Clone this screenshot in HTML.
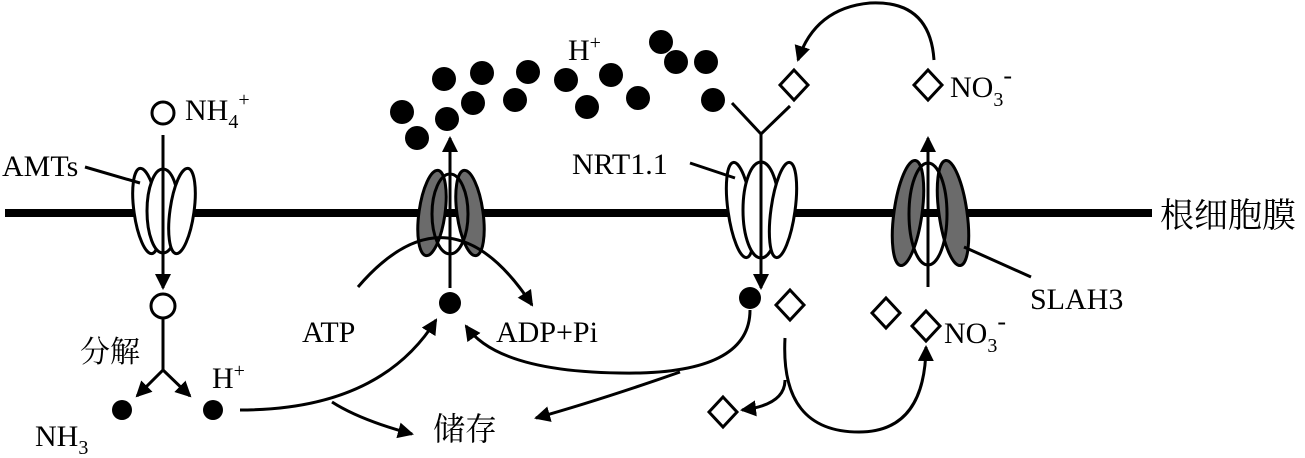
<html><body style="margin:0;background:#fff">
<svg width="1305" height="458" viewBox="0 0 1305 458" xmlns="http://www.w3.org/2000/svg" font-family="Liberation Serif, Noto Serif CJK SC, serif" font-size="30">
<defs>
<marker id="h" markerWidth="20" markerHeight="20" refX="14" refY="8" orient="auto" markerUnits="userSpaceOnUse"><path d="M0,0 L16,8 L0,16 Z" fill="#000"/></marker></defs>
<g stroke="#000" fill="none" stroke-width="3">
<line x1="5" y1="213" x2="1152" y2="213" stroke-width="8"/>
<!-- AMTs -->
<g fill="#fff"><ellipse cx="146" cy="211" rx="12" ry="43" transform="rotate(-8 146 211)"/><ellipse cx="163" cy="211" rx="16" ry="42"/><ellipse cx="182" cy="211" rx="12" ry="43" transform="rotate(8 182 211)"/></g>
<line x1="163" y1="135" x2="163" y2="288" marker-end="url(#h)"/>
<circle cx="163" cy="113" r="11" fill="#fff"/><circle cx="163" cy="306" r="12" fill="#fff"/>
<path d="M163 318 L163 370 L137 396" marker-end="url(#h)"/>
<path d="M163 370 L190 396" marker-end="url(#h)"/>
<line x1="85" y1="167" x2="140" y2="183"/>
<!-- pump -->
<ellipse cx="432" cy="213" rx="13" ry="43" transform="rotate(8 432 213)" fill="#6b6b6b"/>
<ellipse cx="470" cy="213" rx="13" ry="43" transform="rotate(-8 470 213)" fill="#6b6b6b"/>
<ellipse cx="450" cy="214" rx="18" ry="40"/>
<line x1="450" y1="288" x2="450" y2="138" marker-end="url(#h)"/>
<path d="M358 287 Q450 180 532 305" marker-end="url(#h)"/>
<path d="M240 410 Q380 410 436 320" marker-end="url(#h)"/>
<path d="M332 402 Q360 420 412 434" marker-end="url(#h)"/>
<path d="M750 310 Q750 370 640 373 Q500 375 466 326" marker-end="url(#h)"/>
<path d="M680 372 Q600 400 536 418" marker-end="url(#h)"/>
<!-- NRT1.1 -->
<g fill="#fff"><ellipse cx="740" cy="210" rx="12" ry="48" transform="rotate(-8 740 210)"/><ellipse cx="761" cy="210" rx="18" ry="48"/><ellipse cx="783" cy="210" rx="12" ry="48" transform="rotate(8 783 210)"/></g>
<line x1="761" y1="133" x2="761" y2="288" marker-end="url(#h)"/>
<path d="M732 103 L761 134 L790 106"/>
<line x1="690" y1="163" x2="735" y2="178"/>
<!-- SLAH3 -->
<ellipse cx="908" cy="213" rx="14" ry="53" transform="rotate(8 908 213)" fill="#6b6b6b"/>
<ellipse cx="953" cy="213" rx="14" ry="53" transform="rotate(-8 953 213)" fill="#6b6b6b"/>
<ellipse cx="928" cy="214" rx="19" ry="51"/>
<line x1="928" y1="287" x2="928" y2="138" marker-end="url(#h)"/>
<line x1="964" y1="247" x2="1031" y2="277"/>
<path d="M934 60 Q930 0 870 3 Q815 8 798 60" marker-end="url(#h)"/>
<path d="M785 338 Q780 432 859 432 Q925 432 926 347" marker-end="url(#h)"/>
<path d="M785 380 Q785 405 742 410" marker-end="url(#h)"/>
<g fill="#fff">
<path d="M794 70 L808 85 L794 100 L780 85 Z"/><path d="M928 70 L942 85 L928 100 L914 85 Z"/>
<path d="M790 290 L804 305 L790 320 L776 305 Z"/><path d="M886 298 L900 313 L886 328 L872 313 Z"/>
<path d="M926 311 L940 326 L926 341 L912 326 Z"/><path d="M723 397 L737 412 L723 427 L709 412 Z"/>
</g>
</g>
<g fill="#000">
<circle cx="122" cy="410" r="10"/><circle cx="213" cy="410" r="10"/><circle cx="450" cy="303" r="11"/><circle cx="750" cy="298" r="11"/>
<circle cx="402" cy="112" r="12"/><circle cx="417" cy="138" r="12"/><circle cx="444" cy="79" r="12"/><circle cx="447" cy="119" r="12"/><circle cx="473" cy="103" r="12"/><circle cx="482" cy="73" r="12"/><circle cx="515" cy="100" r="12"/><circle cx="528" cy="72" r="12"/><circle cx="566" cy="80" r="12"/><circle cx="587" cy="107" r="12"/><circle cx="611" cy="75" r="12"/><circle cx="638" cy="98" r="12"/><circle cx="661" cy="42" r="12"/><circle cx="676" cy="62" r="12"/><circle cx="706" cy="62" r="12"/><circle cx="713" cy="100" r="12"/>
<text x="185" y="120">NH<tspan font-size="20" dy="8">4</tspan><tspan font-size="20" dy="-22">+</tspan></text>
<text x="2" y="176">AMTs</text>
<text x="80" y="362">分解</text>
<text x="212" y="388">H<tspan font-size="20" dy="-11">+</tspan></text>
<text x="35" y="446">NH<tspan font-size="20" dy="8">3</tspan></text>
<text x="302" y="342">ATP</text>
<text x="496" y="342">ADP+Pi</text>
<text x="433" y="440" font-size="32">储存</text>
<text x="568" y="60">H<tspan font-size="20" dy="-11">+</tspan></text>
<text x="572" y="174">NRT1.1</text>
<text x="950" y="97">NO<tspan font-size="20" dy="9">3</tspan><tspan font-size="26" dy="-22">-</tspan></text>
<text x="944" y="343">NO<tspan font-size="20" dy="9">3</tspan><tspan font-size="26" dy="-22">-</tspan></text>
<text x="1030" y="309">SLAH3</text>
<text x="1160" y="227" font-size="34">根细胞膜</text>
</g>
</svg>
</body></html>
